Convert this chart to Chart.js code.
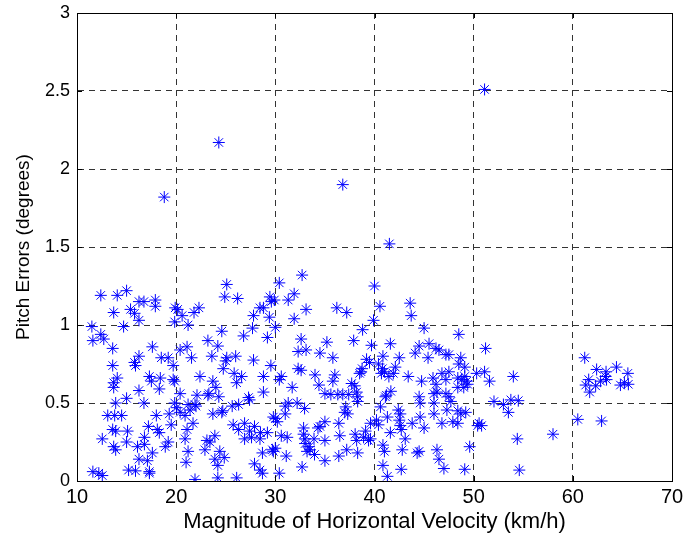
<!DOCTYPE html>
<html>
<head>
<meta charset="utf-8">
<script src="https://cdn.jsdelivr.net/npm/chart.js@4.4.0/dist/chart.umd.min.js"></script>
<style>
  html, body { margin: 0; padding: 0; background: #ffffff; }
  #wrap { width: 684px; height: 542px; position: relative; }
</style>
</head>
<body>
<div id="wrap"><canvas id="c" width="684" height="542"></canvas></div>
<script>
// Horizontal velocity (km/h) and pitch error (degrees)
const velocity = [
  12.4,14.06,15.0,13.7,15.4,15.8,16.25,16.75,17.9,17.9,16.25,11.5,14.7,12.4,11.6,12.7,13.6,17.6,16.25,13.6,
  15.9,15.8,18.5,19.2,19.7,14.06,13.7,13.7,17.3,17.5,18.4,18.3,16.25,19.7,13.9,15.0,16.75,13.1,13.8,14.5,
  18.0,19.3,13.6,13.9,15.1,17.2,18.1,18.3,19.5,12.55,15.0,16.8,13.7,13.9,16.1,16.8,17.6,18.9,19.2,16.25,
  17.1,11.6,12.2,12.55,15.2,15.9,17.3,17.3,19.9,19.85,19.85,19.85,18.8,
  25.1,24.9,26.2,29.45,29.6,20.15,20.6,21.2,21.8,22.3,27.8,28.45,28.8,29.4,24.6,27.7,26.8,29.2,23.2,24.2,
  20.4,21.1,23.6,21.55,25.1,26.0,27.8,25.0,24.75,29.55,25.85,26.6,26.1,22.4,23.7,24.0,28.8,20.4,22.1,23.2,
  23.3,24.3,27.3,27.4,28.8,21.2,21.9,22.0,25.65,26.3,20.05,20.4,21.4,23.7,24.6,24.7,20.9,21.7,25.75,26.9,
  26.3,27.9,27.4,28.5,29.2,29.8,21.1,20.9,26.9,27.6,28.45,23.1,23.4,23.9,22.9,24.4,21.2,24.85,23.9,24.2,
  28.7,29.7,21.0,27.9,28.45,28.7,21.9,24.2,26.1,24.3,
  32.7,30.4,29.9,31.3,31.9,33.1,36.2,37.2,31.9,30.0,38.8,39.7,32.6,35.2,37.9,32.3,33.1,34.5,35.8,39.2,
  39.5,32.3,32.6,30.6,30.4,34.0,36.0,35.8,38.65,38.75,38.5,34.4,31.7,37.7,38.0,38.2,35.0,35.6,36.3,36.8,
  37.4,38.3,38.3,32.2,31.3,31.0,32.95,37.1,37.0,37.3,31.0,30.0,30.2,35.0,36.4,34.5,34.3,32.85,39.1,30.6,
  31.2,32.85,33.0,33.9,35.0,36.5,38.05,38.2,38.9,39.4,33.0,33.4,33.5,30.0,29.8,33.2,33.95,31.1,37.2,36.4,
  38.3,35.0,32.7,30.4,36.8,
  41.5,40.0,40.55,43.6,43.7,39.9,45.0,48.5,41.6,44.5,45.5,44.1,46.2,46.5,47.2,47.5,45.4,40.85,42.5,48.7,
  48.5,49.1,40.4,42.1,40.8,41.0,40.7,41.9,41.45,43.4,46.8,47.5,45.9,44.75,47.2,46.2,48.4,48.8,49.1,48.4,
  49.0,49.3,46.3,46.0,47.2,47.5,44.5,44.6,46.0,47.7,41.2,41.65,41.1,40.6,42.4,42.6,46.0,47.3,48.4,48.7,
  41.3,44.6,42.5,43.8,46.8,47.9,48.4,39.6,40.2,40.4,42.6,42.7,45.0,41.6,39.6,43.1,40.85,41.0,42.8,44.3,
  44.5,46.3,46.5,40.85,42.7,47.0,49.1,41.3,
  51.2,49.4,50.3,51.1,51.6,54.0,52.05,53.0,53.75,54.5,53.5,50.55,50.4,50.8,49.2,49.6,54.4,58.0,54.6,51.1,
  61.2,62.4,63.35,64.4,65.55,61.6,61.3,62.3,61.7,62.8,63.4,63.3,64.8,65.2,65.6,60.5,62.9
];
const pitchError = [
  1.19,1.19,1.22,1.08,1.10,1.075,1.15,1.15,1.16,1.12,1.03,0.99,0.99,0.94,0.90,0.91,0.85,0.86,0.80,0.74,
  0.74,0.76,0.79,0.79,0.74,0.66,0.63,0.60,0.67,0.64,0.66,0.59,0.58,0.65,0.50,0.53,0.50,0.42,0.42,0.42,
  0.42,0.43,0.33,0.32,0.32,0.35,0.33,0.31,0.36,0.27,0.25,0.28,0.22,0.20,0.22,0.235,0.18,0.22,0.25,0.14,
  0.13,0.06,0.05,0.035,0.07,0.065,0.05,0.06,1.11,1.02,0.64,0.50,1.82,
  1.26,1.18,1.17,1.18,1.15,1.10,1.06,1.00,1.08,1.11,1.06,1.11,1.11,1.05,0.96,0.98,0.93,0.92,0.90,0.865,
  0.84,0.86,0.80,0.79,0.79,0.80,0.775,0.77,0.72,0.74,0.69,0.67,0.63,0.67,0.64,0.60,0.67,0.56,0.55,0.55,
  0.56,0.54,0.535,0.52,0.57,0.49,0.49,0.48,0.48,0.49,0.47,0.44,0.455,0.43,0.44,0.45,0.42,0.37,0.36,0.37,
  0.33,0.35,0.32,0.31,0.31,0.41,0.33,0.27,0.27,0.28,0.27,0.26,0.25,0.29,0.20,0.19,0.19,0.15,0.14,0.10,
  0.18,0.20,0.12,0.11,0.07,0.05,0.01,0.02,0.02,2.17,
  1.32,1.27,1.16,1.16,1.20,1.10,1.11,1.08,1.04,0.985,0.97,0.87,0.91,0.89,0.90,0.83,0.84,0.82,0.79,0.78,
  0.76,0.72,0.71,0.67,0.65,0.68,0.68,0.64,0.70,0.72,0.69,0.615,0.60,0.625,0.61,0.57,0.56,0.555,0.555,0.555,
  0.555,0.54,0.51,0.50,0.50,0.48,0.465,0.475,0.44,0.43,0.43,0.40,0.38,0.38,0.37,0.35,0.34,0.34,0.32,0.29,
  0.28,0.30,0.27,0.27,0.26,0.29,0.30,0.26,0.28,0.26,0.24,0.22,0.20,0.21,0.19,0.19,0.17,0.16,0.20,0.16,
  0.18,0.13,0.09,0.05,1.90,
  1.52,1.25,1.12,1.14,1.06,1.03,0.98,0.94,0.88,0.865,0.88,0.82,0.85,0.84,0.81,0.81,0.79,0.80,0.79,0.79,
  0.75,0.73,0.75,0.73,0.72,0.70,0.69,0.69,0.67,0.67,0.69,0.70,0.66,0.64,0.65,0.62,0.66,0.65,0.67,0.60,
  0.60,0.64,0.57,0.56,0.56,0.54,0.54,0.50,0.50,0.51,0.55,0.575,0.54,0.475,0.455,0.43,0.43,0.455,0.45,0.43,
  0.41,0.41,0.39,0.37,0.37,0.38,0.37,0.37,0.39,0.36,0.355,0.33,0.34,0.31,0.27,0.27,0.23,0.19,0.20,0.18,
  0.19,0.20,0.14,0.10,0.075,0.08,0.075,0.03,
  0.85,0.62,0.69,0.70,0.64,0.67,0.51,0.49,0.52,0.515,0.44,0.37,0.355,0.355,0.44,0.22,0.27,0.30,0.07,2.51,
  0.79,0.715,0.70,0.73,0.69,0.65,0.615,0.61,0.57,0.64,0.65,0.67,0.615,0.63,0.62,0.395,0.385
];
const xTickValues = [10, 20, 30, 40, 50, 60, 70];
const xTickLabels = ['10', '20', '30', '40', '50', '60', '70'];
const yTickValues = [0, 0.5, 1, 1.5, 2, 2.5, 3];
const yTickLabels = ['0', '0.5', '1', '1.5', '2', '2.5', '3'];
const xTitle = 'Magnitude of Horizontal Velocity (km/h)';
const yTitle = 'Pitch Errors (degrees)';

const points = velocity.map((v, i) => ({ x: v, y: pitchError[i] }));

const FONT = "'Liberation Sans', Arial, sans-serif";

const boxPlugin = {
  id: 'boxPlugin',
  afterDraw(chart) {
    const { ctx, chartArea: a, scales } = chart;
    ctx.save();
    ctx.strokeStyle = '#000';
    ctx.lineWidth = 1;
    ctx.setLineDash([]);
    ctx.strokeRect(Math.round(a.left) + 0.5, Math.round(a.top) + 0.5,
      Math.round(a.right - a.left), Math.round(a.bottom - a.top));
    const L = 5;
    ctx.beginPath();
    xTickValues.forEach(v => {
      const px = Math.round(scales.x.getPixelForValue(v)) + 0.5;
      ctx.moveTo(px, a.bottom); ctx.lineTo(px, a.bottom - L);
      ctx.moveTo(px, a.top); ctx.lineTo(px, a.top + L);
    });
    yTickValues.forEach(v => {
      const py = Math.round(scales.y.getPixelForValue(v)) + 0.5;
      ctx.moveTo(a.left, py); ctx.lineTo(a.left + L, py);
      ctx.moveTo(a.right, py); ctx.lineTo(a.right - L, py);
    });
    ctx.stroke();
    ctx.restore();
  }
};

new Chart(document.getElementById('c'), {
  type: 'scatter',
  data: {
    datasets: [{
      data: points,
      pointStyle: 'star',
      radius: 6,
      hoverRadius: 6,
      borderColor: '#0000ff',
      backgroundColor: '#0000ff',
      borderWidth: 1
    }]
  },
  options: {
    responsive: false,
    animation: false,
    events: [],
    layout: { padding: { top: 13, right: 12, left: 0, bottom: 0 } },
    plugins: { legend: { display: false }, tooltip: { enabled: false } },
    scales: {
      x: {
        type: 'linear',
        min: 10, max: 70,
        afterFit(s) { s.height = 61; s.paddingLeft = 0; s.paddingRight = 0; },
        afterBuildTicks(s) { s.ticks = xTickValues.map(v => ({ value: v })); },
        ticks: {
          color: '#000',
          padding: 4,
          font: { family: FONT, size: 20 },
          callback: (v, i) => xTickLabels[i]
        },
        grid: { color: '#333', lineWidth: 1, drawTicks: false },
        border: { display: true, color: '#000', dash: [6, 5] },
        title: {
          display: true, text: xTitle, color: '#000',
          font: { family: FONT, size: 22 },
          padding: { top: 0, bottom: 7 }
        }
      },
      y: {
        type: 'linear',
        min: 0, max: 3,
        afterFit(s) { s.width = 77; s.paddingTop = 0; s.paddingBottom = 0; },
        afterBuildTicks(s) { s.ticks = yTickValues.map(v => ({ value: v })); },
        ticks: {
          color: '#000',
          padding: 7,
          font: { family: FONT, size: 18 },
          callback: (v, i) => yTickLabels[i]
        },
        grid: { color: '#333', lineWidth: 1, drawTicks: false },
        border: { display: true, color: '#000', dash: [6, 5] },
        title: {
          display: true, text: yTitle, color: '#000',
          font: { family: FONT, size: 19 },
          padding: { top: 12, bottom: 0 }
        }
      }
    }
  },
  plugins: [boxPlugin]
});
</script>
</body>
</html>
